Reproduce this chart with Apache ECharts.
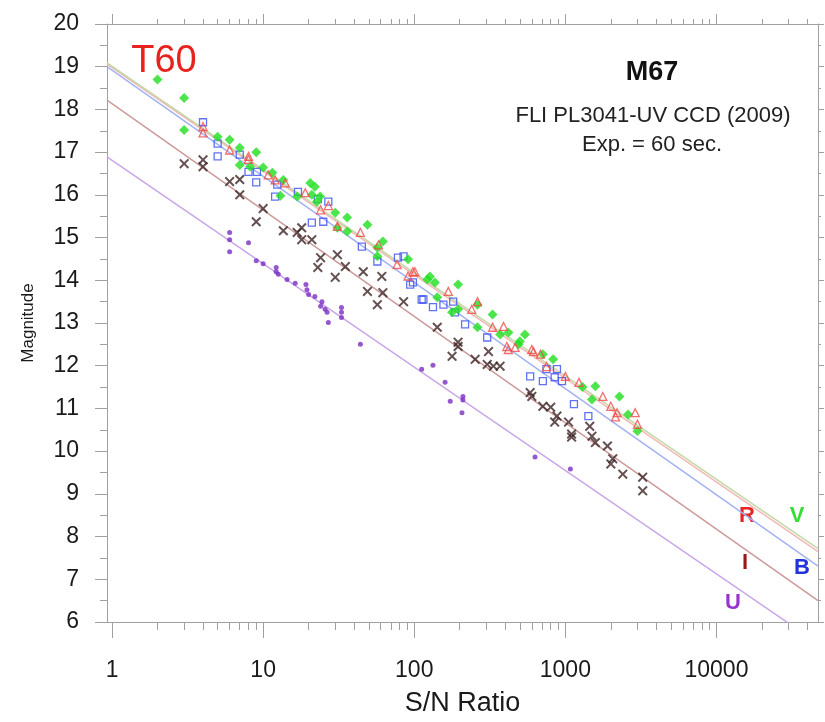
<!DOCTYPE html>
<html>
<head>
<meta charset="utf-8">
<script src="https://cdn.jsdelivr.net/npm/echarts@6/dist/echarts.min.js"></script>
<style>html,body{margin:0;padding:0;background:#fff}#c{width:825px;height:722px}</style>
</head>
<body>
<div id="c"></div>
<script>
// [S/N, magnitude]
var vData = [[2,18.7],[3,18.27],[3,17.52],[5,17.36],[6,17.29],[7,17.1],[9,17.0],[7,16.7],[8.2,16.66],[10,16.64],[11.5,16.52],[13.6,16.35],[13,15.98],[16.8,15.96],
  [20.5,16.28],[22,16.19],[21,16.0],[23.8,15.96],[22.7,15.84],[30,15.58],[36,15.47],[36,15.14],[31,15.23],[49,15.3],[62,14.91],[57,14.77],[57,14.56],
  [91,14.49],[122,14.02],[127,14.09],[137,13.95],[195,13.9],[142,13.6],[178,13.25],[195,13.32],[262,13.43],[330,13.2],[262,12.9],[370,12.73],[420,12.78],
  [540,12.73],[490,12.5],[710,12.27],[830,12.15],[500,12.57],[1300,11.5],[1580,11.52],[1500,11.21],[2280,11.28],[2600,10.86],[3000,10.47]];
var rData = [[4,17.6],[4,17.45],[6,17.05],[8,16.9],[8,16.83],[10.8,16.47],[12,16.35],[14,16.28],[19,16.05],[27,15.75],[24,15.65],[31,15.26],[44,15.12],[58,14.83],
  [77,14.37],[98,14.2],[91,14.1],[101,14.2],[168,13.74],[240,13.32],[262,13.5],[330,12.9],[390,12.92],[410,12.45],[465,12.43],[600,12.38],[685,12.27],
  [420,12.38],[615,12.33],[750,11.98],[1000,11.75],[1230,11.61],[1770,11.28],[2000,11.05],[2200,10.9],[2150,10.8],[2900,10.9],[3000,10.63]];
var bData = [[4,17.7],[5,17.2],[5,16.9],[7,16.94],[8,16.54],[9.1,16.54],[9,16.29],[12.4,16.24],[12,15.96],[17,16.07],[23,15.9],[27,15.84],[21,15.35],[25,15.37],
  [45,14.79],[57,14.44],[78,14.53],[94,13.9],[98,13.95],[115,13.55],[85,14.56],[112,13.55],[133,13.37],[156,13.43],[181,13.5],[186,13.25],[217,12.97],
  [304,12.66],[585,11.75],[710,11.64],[750,11.92],[880,11.92],[850,11.73],[950,11.64],[1140,11.1],[1420,10.82]];
var iData = [[3,16.73],[4,16.82],[4,16.66],[6,16.31],[7,16.36],[7,16.0],[10,15.68],[9,15.37],[13.6,15.16],[16.8,15.12],[18,15.23],[18,14.95],[21,14.95],
  [24,14.53],[23,14.3],[31,14.6],[35,14.32],[30,14.07],[46,14.2],[61,14.09],[49,13.74],[62,13.71],[57,13.43],[85,13.5],[142,12.9],[195,12.55],[195,12.45],
  [178,12.22],[253,12.15],[304,12.03],[334,11.99],[370,11.99],[310,12.33],[585,11.37],[600,11.28],[710,11.05],[800,11.03],[880,10.82],[850,10.68],
  [1050,10.68],[1100,10.4],[1100,10.33],[1450,10.58],[1500,10.35],[1580,10.2],[1900,10.12],[2060,9.82],[2000,9.7],[2400,9.46],[3250,9.39],[3250,9.07]];
var uData = [[6,15.12],[6,14.95],[6,14.67],[8,14.88],[9,14.46],[10,14.39],[12.2,14.3],[12.2,14.2],[12.6,14.14],[14.4,14.02],[16.3,13.93],[19.2,13.9],
  [19.5,13.78],[20,13.67],[22,13.62],[24.5,13.5],[24,13.39],[25.7,13.32],[26.5,13.25],[27,13.01],[33,13.36],[33,13.25],[33,13.13],[44,12.5],
  [112,11.92],[133,12.01],[160,11.61],[173,11.17],[210,11.28],[210,11.2],[207,10.9],[630,9.86],[1080,9.58]];
// fit lines (endpoints at axis limits)
var xMin = 0.926, xMax = 47000;
var vLine = [[xMin,19.09],[xMax,7.72]];
var rLine = [[xMin,19.06],[xMax,7.65]];
var bLine = [[xMin,19.0],[xMax,7.31]];
var iLine = [[xMin,18.22],[xMax,6.5]];
var uLine = [[xMin,16.89],[xMax,5.5]];
var majorX = [1,10,100,1000,10000];
var minorX = [];
[1,10,100,1000,10000].forEach(function(d){ for (var k=2;k<=9;k++){ if (d*k<=xMax) minorX.push(d*k); } });

var axisGrey = '#a0a0a0';
var font = 'Liberation Sans, Arial, sans-serif';
var xPath = 'path://M0,1.4 L1.4,0 L5,3.6 L8.6,0 L10,1.4 L6.4,5 L10,8.6 L8.6,10 L5,6.4 L1.4,10 L0,8.6 L3.6,5 Z';

function xAx(pos, vals, len, labels, extra) {
  var a = {
    type: 'log', position: pos, min: xMin, max: xMax, gridIndex: 0,
    axisLine: { show: true, lineStyle: { color: axisGrey, width: 1 } },
    axisTick: { show: true, inside: false, length: len, customValues: vals, lineStyle: { color: axisGrey } },
    axisLabel: labels ? { show: true, customValues: majorX, margin: 37, fontSize: 23, color: '#1a1a1a', fontFamily: font,
      formatter: function(v){ return String(Math.round(v)); } } : { show: false },
    splitLine: { show: false }, minorTick: { show: false }
  };
  if (extra) for (var k in extra) a[k] = extra[k];
  return a;
}

function lineSeries(d, color) {
  return { type: 'line', data: d, showSymbol: false, symbol: 'none', silent: true, clip: true, z: 1,
    lineStyle: { color: color, width: 1.5 } };
}

var chart = echarts.init(document.getElementById('c'), null, { renderer: 'canvas' });
chart.setOption({
  animation: false,
  backgroundColor: '#fff',
  grid: { left: 107, right: 7, top: 24, bottom: 99, containLabel: false },
  xAxis: [
    xAx('bottom', majorX, 16, true, { name: 'S/N Ratio', nameLocation: 'middle', nameGap: 68,
      nameTextStyle: { fontSize: 27, color: '#1a1a1a', fontFamily: font } }),
    xAx('bottom', minorX, 8, false),
    xAx('top', majorX, 10, false),
    xAx('top', minorX, 5, false)
  ],
  yAxis: [
    { type: 'value', position: 'left', min: 6, max: 20, interval: 1,
      name: 'Magnitude', nameLocation: 'middle', nameGap: 70, nameRotate: 90,
      nameTextStyle: { fontSize: 17, color: '#1a1a1a', fontFamily: font },
      axisLine: { show: true, lineStyle: { color: axisGrey } },
      axisTick: { show: true, inside: false, length: 12, lineStyle: { color: axisGrey } },
      minorTick: { show: true, splitNumber: 2, length: 7, lineStyle: { color: axisGrey } },
      axisLabel: { margin: 28, fontSize: 23, color: '#1a1a1a', fontFamily: font },
      splitLine: { show: false } },
    { type: 'value', position: 'right', min: 6, max: 20, interval: 1,
      axisLine: { show: true, lineStyle: { color: axisGrey } },
      axisTick: { show: true, inside: false, length: 6, lineStyle: { color: axisGrey } },
      minorTick: { show: true, splitNumber: 2, length: 3, lineStyle: { color: axisGrey } },
      axisLabel: { show: false }, splitLine: { show: false } }
  ],
  series: [
    lineSeries(uLine, '#c9a6e8'),
    lineSeries(iLine, '#cc9a9a'),
    lineSeries(bLine, '#a3b2f2'),
    lineSeries(rLine, '#f2b8b8'),
    lineSeries(vLine, '#c2d9a6'),
    { name: 'U', type: 'scatter', data: uData, symbol: 'circle', symbolSize: 5, z: 3,
      itemStyle: { color: '#7a2ec2' } },
    { name: 'I', type: 'scatter', data: iData, symbol: xPath, symbolSize: 10, z: 3,
      itemStyle: { color: '#3d2424' } },
    { name: 'B', type: 'scatter', data: bData, symbol: 'rect', symbolSize: 7, z: 3,
      itemStyle: { color: 'rgba(255,255,255,0)', borderColor: '#3a4ff0', borderWidth: 1.3 } },
    { name: 'V', type: 'scatter', data: vData, symbol: 'diamond', symbolSize: 10, z: 4,
      itemStyle: { color: '#1fe01f' } },
    { name: 'R', type: 'scatter', data: rData, symbol: 'triangle', symbolSize: 8, z: 5,
      itemStyle: { color: 'rgba(255,255,255,0)', borderColor: '#f04a4a', borderWidth: 1.3 } }
  ],
  graphic: [
    { type: 'text', x: 164, y: 62, style: { text: 'T60', font: '38px ' + font, fill: '#e8231e', align: 'center', verticalAlign: 'middle' } },
    { type: 'text', x: 652, y: 73, style: { text: 'M67', font: 'bold 27px ' + font, fill: '#111', align: 'center', verticalAlign: 'middle' } },
    { type: 'text', x: 653, y: 116, style: { text: 'FLI PL3041-UV CCD (2009)', font: '22px ' + font, fill: '#222', align: 'center', verticalAlign: 'middle' } },
    { type: 'text', x: 652, y: 145, style: { text: 'Exp. = 60 sec.', font: '22px ' + font, fill: '#222', align: 'center', verticalAlign: 'middle' } },
    { type: 'text', x: 747, y: 516, style: { text: 'R', font: 'bold 22px ' + font, fill: '#e82424', align: 'center', verticalAlign: 'middle' } },
    { type: 'text', x: 797, y: 516, style: { text: 'V', font: 'bold 22px ' + font, fill: '#33dd33', align: 'center', verticalAlign: 'middle' } },
    { type: 'text', x: 745, y: 563, style: { text: 'I', font: 'bold 22px ' + font, fill: '#991818', align: 'center', verticalAlign: 'middle' } },
    { type: 'text', x: 802, y: 568, style: { text: 'B', font: 'bold 22px ' + font, fill: '#2233dd', align: 'center', verticalAlign: 'middle' } },
    { type: 'text', x: 733, y: 603, style: { text: 'U', font: 'bold 22px ' + font, fill: '#9933cc', align: 'center', verticalAlign: 'middle' } }
  ]
});
</script>
</body>
</html>
